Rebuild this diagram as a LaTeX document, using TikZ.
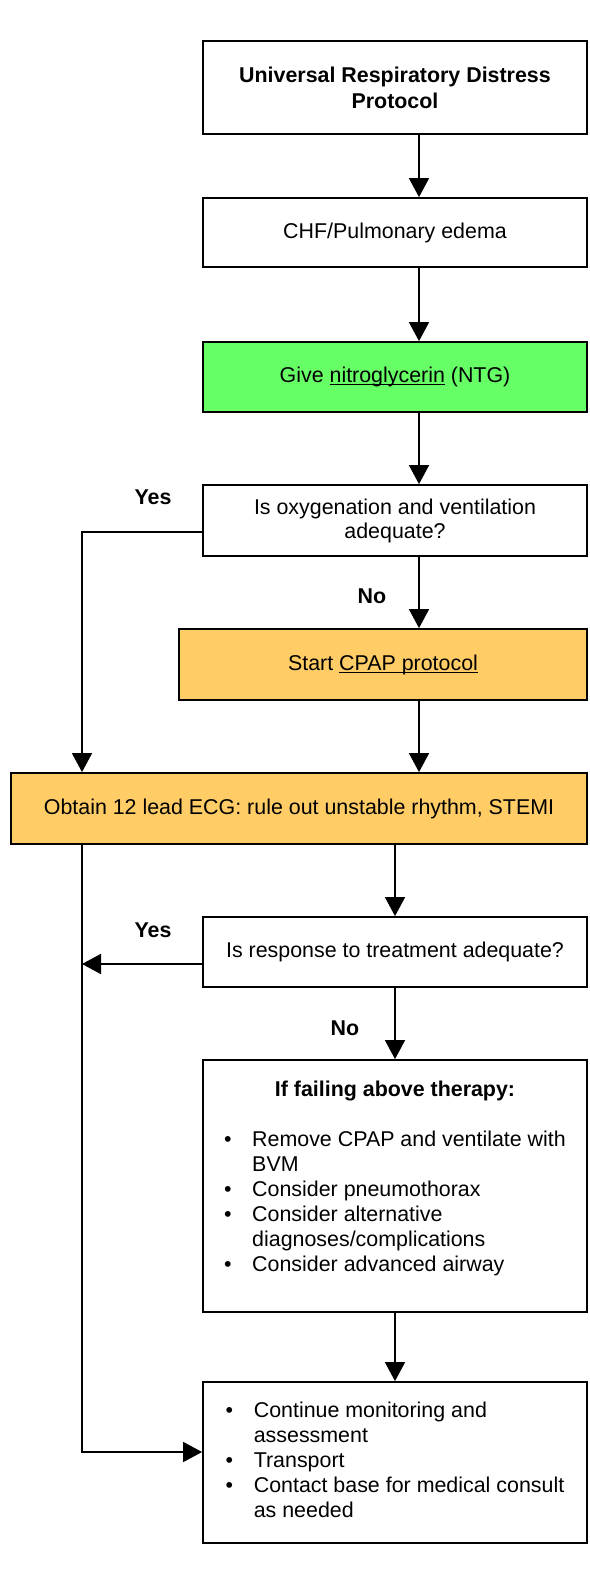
\documentclass[tikz,border=0pt]{standalone}
\usepackage{fontspec}
\setmainfont{Liberation Sans}
\usetikzlibrary{arrows.meta,calc}
\definecolor{ngreen}{HTML}{66FF66}
\definecolor{norange}{HTML}{FFCC66}
\newcommand\ulin[1]{\setbox0\hbox{#1}\rlap{\rule[-1.4pt]{\wd0}{0.5pt}}\box0\relax}
\begin{document}
\begin{tikzpicture}[x=0.5pt,y=-0.5pt,
  font=\fontsize{10.7}{12.5}\selectfont,
  box/.style={draw, line width=0.9pt, inner sep=0pt, minimum width=192pt, align=center},
  arr/.style={line width=0.8pt, -{Triangle[length=9.5pt,width=10pt]}},
  lab/.style={font=\fontsize{10.7}{12.5}\selectfont\bfseries, inner sep=0pt}]
\useasboundingbox (0,0) rectangle (589,1574);
\node[box, minimum height=46.5pt, font=\fontsize{10.7}{13}\selectfont\bfseries] (b1) at (395,87.5) {Universal Respiratory Distress\\Protocol};
\node[box, minimum height=34.5pt] (b2) at (395,232.5) {CHF/Pulmonary edema};
\node[box, minimum height=35pt, fill=ngreen] (b3) at (395,377) {Give \ulin{nitroglycerin} (NTG)};
\node[box, minimum height=35.5pt, font=\fontsize{10.7}{12}\selectfont] (b4) at (395,520.5) {Is oxygenation and ventilation\\adequate?};
\node[box, minimum height=35.5pt, minimum width=204pt, fill=norange] (b5) at (383,664.5) {Start \ulin{CPAP protocol}};
\node[box, minimum height=35.5pt, minimum width=288pt, fill=norange] (b6) at (299,808.5) {Obtain 12 lead ECG: rule out unstable rhythm, STEMI};
\node[box, minimum height=35pt] (b7) at (395,952) {Is response to treatment adequate?};
\node[box, minimum height=126pt] (b8) at (395,1186) {\begin{tabular}{@{}l@{\hspace{10.3pt}}l@{}}
\multicolumn{2}{c}{\bfseries If failing above therapy:}\\
\\
\textbullet & Remove CPAP and ventilate with\\
 & BVM\\
\textbullet & Consider pneumothorax\\
\textbullet & Consider alternative\\
 & diagnoses/complications\\
\textbullet & Consider advanced airway\\[7pt]
\end{tabular}};
\node[box, minimum height=80.5pt] (b9) at (395,1462.5) {\begin{tabular}{@{}l@{\hspace{10.3pt}}l@{}}
\textbullet & Continue monitoring and\\
 & assessment\\
\textbullet & Transport\\
\textbullet & Contact base for medical consult\hspace{3pt}\\
 & as needed
\end{tabular}};
\coordinate (colA) at ([xshift=12pt]b1.south);
\coordinate (colL) at (82,0);
\draw[arr] (colA) -- (colA |- b2.north);
\draw[arr] (colA |- b2.south) -- (colA |- b3.north);
\draw[arr] (colA |- b3.south) -- (colA |- b4.north);
\draw[arr] (colA |- b4.south) -- (colA |- b5.north);
\draw[arr] (colA |- b5.south) -- (colA |- b6.north);
\draw[arr] ([yshift=-5.75pt]b4.west) -| (colL |- b6.north);
\draw[arr] (b7.north |- b6.south) -- (b7.north);
\draw[arr] ([yshift=-6pt]b7.west) -- ([yshift=-6pt]b7.west -| colL);
\draw[arr] (b7.south) -- (b8.north);
\draw[arr] (b8.south) -- (b9.north);
\draw[arr] (colL |- b6.south) |- ([yshift=5.25pt]b9.west);
\node[lab] (yes1) at (153,497.7) {Yes};
\node[lab] (no1) at (372,596.7) {No};
\node[lab] (yes2) at (153,930) {Yes};
\node[lab] (no2) at (345,1028) {No};
\end{tikzpicture}
\end{document}
